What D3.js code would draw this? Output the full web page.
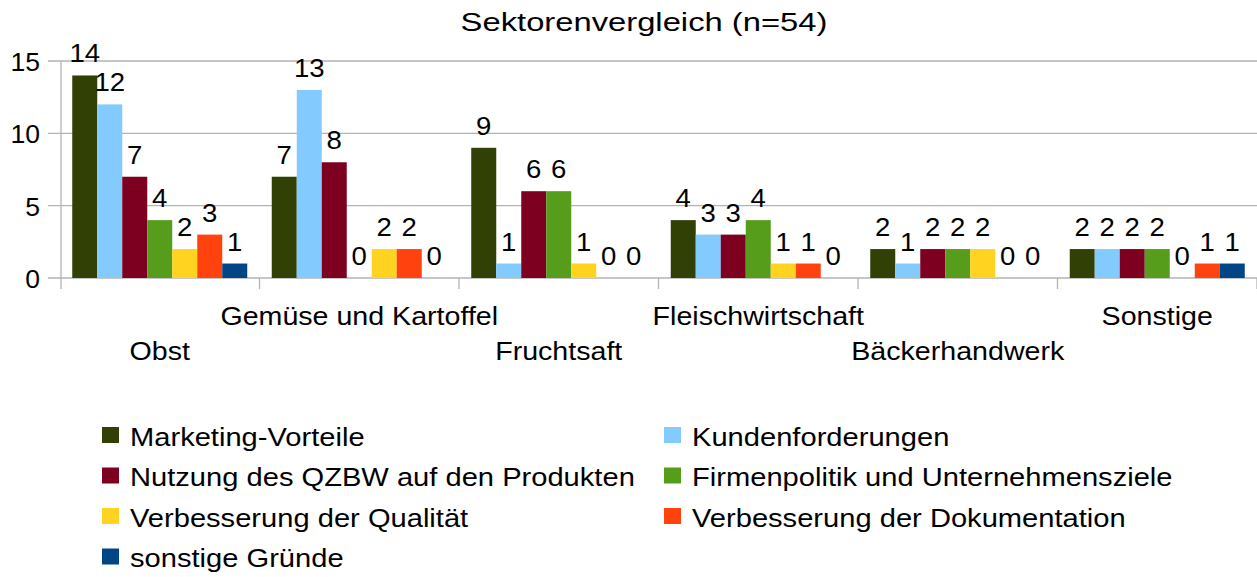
<!DOCTYPE html>
<html>
<head>
<meta charset="utf-8">
<script src="https://cdn.jsdelivr.net/npm/d3@7"></script>
<style>
  body { margin: 0; background: #fff; }
  svg text { font-family: "Liberation Sans", Arial, sans-serif; fill: #000; }
</style>
</head>
<body>
<svg id="chart" width="1257" height="577"></svg>
<script>
var title = "Sektorenvergleich (n=54)";
var sectors = ["Obst", "Gemüse und Kartoffel", "Fruchtsaft", "Fleischwirtschaft", "Bäckerhandwerk", "Sonstige"];
var reasons = ["Marketing-Vorteile", "Kundenforderungen", "Nutzung des QZBW auf den Produkten",
  "Firmenpolitik und Unternehmensziele", "Verbesserung der Qualität", "Verbesserung der Dokumentation", "sonstige Gründe"];
var colors = ["#314004", "#83caff", "#7e0021", "#579d1c", "#ffd320", "#ff420e", "#004586"];

// one array per reason, values in sector order
var marketing = [14, 7, 9, 4, 2, 2];
var kunden = [12, 13, 1, 3, 1, 2];
var nutzung = [7, 8, 6, 3, 2, 2];
var firmen = [4, 0, 6, 4, 2, 2];
var qualitaet = [2, 2, 1, 1, 2, 0];
var doku = [3, 2, 0, 1, 0, 1];
var sonstige = [1, 0, 0, 0, 0, 1];
var yTicks = [0, 5, 10, 15];

var series = [marketing, kunden, nutzung, firmen, qualitaet, doku, sonstige];

var svg = d3.select("#chart");
var fs = 26;
var sx = 1.1; // the original text is a bit wider than Liberation Sans

// place text with a horizontal stretch
function put(sel, fx, fy, k) {
  sel.attr("transform", (d, i) => "translate(" + fx(d, i) + "," + fy(d, i) + ") scale(" + (k || sx) + ",1)")
    .style("font-size", fs + "px");
}

var x0 = d3.scaleBand().domain(sectors).range([60, 1257]);
var pad = 12.25;
var x1 = d3.scaleBand().domain(d3.range(reasons.length)).range([pad, x0.bandwidth() - pad]);
var y = d3.scaleLinear().domain([0, 15]).range([278, 61]);

// gridlines
svg.append("g").selectAll("line").data(yTicks).enter().append("line")
  .attr("x1", 48).attr("x2", 1257)
  .attr("y1", d => y(d)).attr("y2", d => y(d))
  .attr("stroke", "#b3b3b3").attr("stroke-width", 1.3);

// y axis line
svg.append("line").attr("x1", 61).attr("x2", 61).attr("y1", y(15)).attr("y2", 289)
  .attr("stroke", "#b3b3b3").attr("stroke-width", 1.3);

// category boundary ticks
var bounds = sectors.map(s => x0(s)).concat([1257]);
svg.append("g").selectAll("line").data(bounds.slice(1)).enter().append("line")
  .attr("x1", d => d).attr("x2", d => d).attr("y1", y(0)).attr("y2", 289)
  .attr("stroke", "#b3b3b3").attr("stroke-width", 1.3);

// y tick labels
svg.append("g").selectAll("text").data(yTicks).enter().append("text")
  .attr("text-anchor", "end").text(d => d)
  .call(put, () => 40, d => y(d) + 10, 1.02);

// bars
var groups = svg.append("g").selectAll("g").data(sectors).enter().append("g")
  .attr("transform", d => "translate(" + x0(d) + ",0)");

groups.selectAll("rect").data((s, i) => series.map((arr, k) => ({k: k, v: arr[i]})))
  .enter().append("rect")
  .attr("x", d => x1(d.k)).attr("width", x1.bandwidth())
  .attr("y", d => y(d.v)).attr("height", d => y(0) - y(d.v))
  .attr("fill", d => colors[d.k]);

groups.selectAll("text").data((s, i) => series.map((arr, k) => ({k: k, v: arr[i]})))
  .enter().append("text")
  .attr("text-anchor", "middle").text(d => d.v)
  .call(put, d => x1(d.k) + x1.bandwidth() / 2, d => y(d.v) - 13, 1.06);

// category labels, staggered
svg.append("g").selectAll("text").data(sectors).enter().append("text")
  .attr("text-anchor", "middle").text(d => d)
  .call(put, d => x0(d) + x0.bandwidth() / 2, (d, i) => i % 2 === 0 ? 360 : 325);

// title
svg.append("text").datum(title)
  .attr("text-anchor", "middle").text(d => d)
  .call(put, () => 644, () => 31, 1.26);

// legend
var leg = svg.append("g").selectAll("g").data(reasons).enter().append("g")
  .attr("transform", (d, i) => "translate(" + (i % 2 === 0 ? 102 : 664) + "," + (427 + Math.floor(i / 2) * 40.5) + ")");
leg.append("rect").attr("width", 17).attr("height", 16).attr("fill", (d, i) => colors[i]);
leg.append("text").text(d => d).call(put, () => 28, () => 18.5, 1.12);
</script>
</body>
</html>
